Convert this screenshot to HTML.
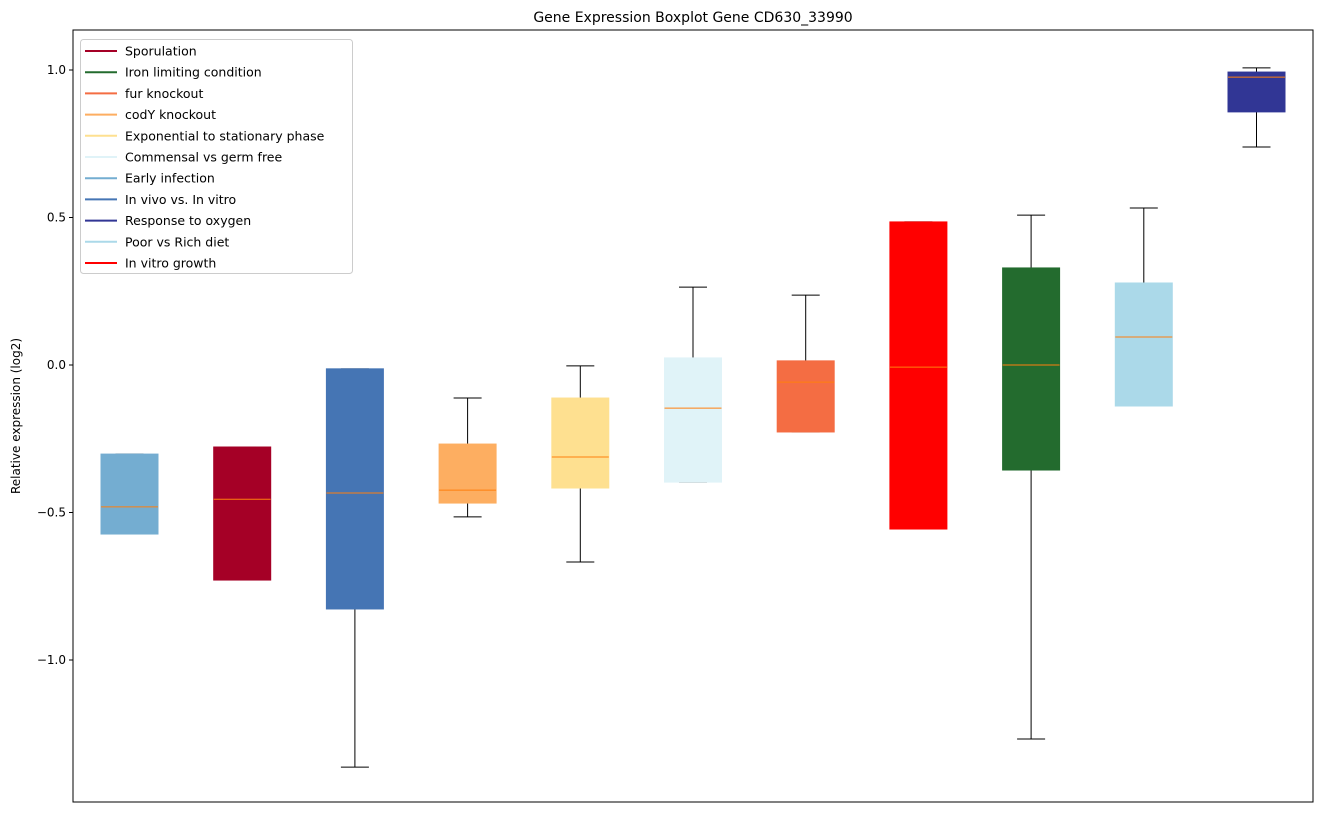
<!DOCTYPE html>
<html><head><meta charset="utf-8"><style>
body{margin:0;background:#fff;font-family:"Liberation Sans","DejaVu Sans",sans-serif}
svg text{font-family:"DejaVu Sans","Liberation Sans",sans-serif}
</style></head><body>
<svg id="chart" width="1322" height="812"></svg>
<script>
const categories=["Early infection","Sporulation","In vivo vs. In vitro","codY knockout","Exponential to stationary phase","Commensal vs germ free","fur knockout","In vitro growth","Iron limiting condition","Poor vs Rich diet","Response to oxygen"];
const colors=["#74add1","#a50026","#4575b4","#fdae61","#fee090","#e0f3f8","#f46d43","#ff0000","#236b2e","#abd9e9","#313695"];
const q1=[-0.573,-0.729,-0.827,-0.468,-0.417,-0.397,-0.227,-0.556,-0.356,-0.139,0.858];
const q3=[-0.302,-0.278,-0.013,-0.268,-0.112,0.024,0.014,0.485,0.329,0.278,0.993];
const medians=[-0.481,-0.455,-0.434,-0.424,-0.312,-0.146,-0.058,-0.007,0.0,0.095,0.976];
const whiskLo=[-0.573,-0.729,-1.363,-0.515,-0.668,-0.397,-0.227,-0.556,-1.268,-0.139,0.739];
const whiskHi=[-0.302,-0.278,-0.013,-0.112,-0.003,0.264,0.237,0.485,0.508,0.532,1.007];
const yTicks=[1.0,0.5,0.0,-0.5,-1.0];
const yTickLabels=["1.0","0.5","0.0","\u22120.5","\u22121.0"];
const legendLabels=["Sporulation","Iron limiting condition","fur knockout","codY knockout","Exponential to stationary phase","Commensal vs germ free","Early infection","In vivo vs. In vitro","Response to oxygen","Poor vs Rich diet","In vitro growth"];
const legendColors=["#a50026","#236b2e","#f46d43","#fdae61","#fee090","#e0f3f8","#74add1","#4575b4","#313695","#abd9e9","#ff0000"];

const svg=document.getElementById('chart');
const NS="http://www.w3.org/2000/svg";
const L=73,R=1313,T=30,B=802;
const y=v=>365-v*295;
const x=i=>129.5+i*112.7;
function mk(tag,at,txt){const e=document.createElementNS(NS,tag);for(const k in at)e.setAttribute(k,at[k]);if(txt!=null)e.textContent=txt;svg.appendChild(e);return e;}

const title=mk('text',{x:693,y:22,'text-anchor':'middle','font-size':14},"Gene Expression Boxplot Gene CD630_33990");


const yl=mk('text',{x:0,y:0,transform:'translate(20,416) rotate(-90)','text-anchor':'middle','font-size':12},"Relative expression (log2)");



yTicks.forEach((t,i)=>{
  const tk=mk('line',{x1:L-4,x2:L,y1:y(t),y2:y(t),stroke:'#000'});
  
  
  const lb=mk('text',{x:L-7,y:y(t)+4,'text-anchor':'end','font-size':12},yTickLabels[i]);
  
  
});

const hw=28.5,cw=14;
categories.forEach((c,i)=>{
  const cx=x(i);
  const g=document.createElementNS(NS,'g');svg.appendChild(g);
  
  
  const add=(tag,at)=>{const e=document.createElementNS(NS,tag);for(const k in at)e.setAttribute(k,at[k]);g.appendChild(e);return e;};
  add('line',{x1:cx,x2:cx,y1:y(q3[i]),y2:y(whiskHi[i]),stroke:'#000'});
  add('line',{x1:cx,x2:cx,y1:y(q1[i]),y2:y(whiskLo[i]),stroke:'#000'});
  add('line',{x1:cx-cw,x2:cx+cw,y1:y(whiskHi[i]),y2:y(whiskHi[i]),stroke:'#000'});
  add('line',{x1:cx-cw,x2:cx+cw,y1:y(whiskLo[i]),y2:y(whiskLo[i]),stroke:'#000'});
  add('rect',{x:cx-hw,y:y(q3[i]),width:2*hw,height:y(q1[i])-y(q3[i]),fill:colors[i],stroke:colors[i]});
  add('line',{x1:cx-hw,x2:cx+hw,y1:y(medians[i]),y2:y(medians[i]),stroke:'#ff7f0e'});
});

const frame=mk('rect',{x:L,y:T,width:R-L,height:B-T,fill:'none',stroke:'#000'});



const lg=mk('rect',{x:80.5,y:39.5,width:272,height:234,rx:3,fill:'#fff','fill-opacity':0.8,stroke:'#ccc'});


legendLabels.forEach((l,i)=>{
  const yy=51+i*21.2;
  const ln=mk('line',{x1:85,x2:117,y1:yy,y2:yy,stroke:legendColors[i],'stroke-width':2});
  
  
  const tx=mk('text',{x:125,y:yy+4.5,'font-size':12.5},l);
  
  
});
</script>
</body></html>
